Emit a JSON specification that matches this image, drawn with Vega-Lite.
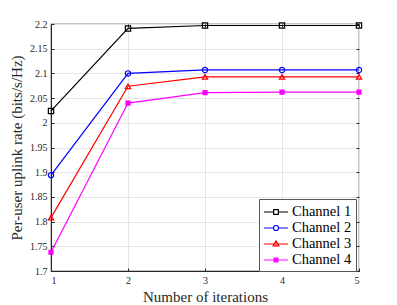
{
  "$schema": "https://vega.github.io/schema/vega-lite/v6.json",
  "width": 308,
  "height": 247,
  "autosize": {"type": "none"},
  "padding": {"left": 51, "top": 24, "right": 38, "bottom": 34},
  "background": "white",
  "config": {
    "font": "Liberation Serif",
    "view": {"stroke": "#b3b3b3", "strokeWidth": 1.5},
    "legend": {"labelFont": "Liberation Serif", "labelFontSize": 14.5},
    "axis": {
      "labelFont": "Liberation Serif",
      "titleFont": "Liberation Serif",
      "labelColor": "#262626",
      "titleColor": "#262626",
      "labelFontSize": 10,
      "titleFontSize": 15,
      "titleFontWeight": "normal",
      "domainColor": "#262626",
      "tickColor": "#262626",
      "gridColor": "#e6e6e6",
      "gridWidth": 1,
      "tickSize": -3,
      "labelPadding": 7
    }
  },
  "data": {
    "values": [
      {"iter": 1, "rate": 2.024, "channel": "Channel 1"},
      {"iter": 2, "rate": 2.191, "channel": "Channel 1"},
      {"iter": 3, "rate": 2.197, "channel": "Channel 1"},
      {"iter": 4, "rate": 2.197, "channel": "Channel 1"},
      {"iter": 5, "rate": 2.197, "channel": "Channel 1"},
      {"iter": 1, "rate": 1.894, "channel": "Channel 2"},
      {"iter": 2, "rate": 2.1, "channel": "Channel 2"},
      {"iter": 3, "rate": 2.107, "channel": "Channel 2"},
      {"iter": 4, "rate": 2.107, "channel": "Channel 2"},
      {"iter": 5, "rate": 2.107, "channel": "Channel 2"},
      {"iter": 1, "rate": 1.808, "channel": "Channel 3"},
      {"iter": 2, "rate": 2.074, "channel": "Channel 3"},
      {"iter": 3, "rate": 2.093, "channel": "Channel 3"},
      {"iter": 4, "rate": 2.093, "channel": "Channel 3"},
      {"iter": 5, "rate": 2.093, "channel": "Channel 3"},
      {"iter": 1, "rate": 1.738, "channel": "Channel 4"},
      {"iter": 2, "rate": 2.04, "channel": "Channel 4"},
      {"iter": 3, "rate": 2.061, "channel": "Channel 4"},
      {"iter": 4, "rate": 2.062, "channel": "Channel 4"},
      {"iter": 5, "rate": 2.062, "channel": "Channel 4"}
    ]
  },
  "resolve": {"axis": {"y": "independent", "x": "independent"}},
  "layer": [
    {
      "mark": {"type": "line", "strokeWidth": 1.2},
      "encoding": {
        "x": {"field": "iter", "type": "quantitative", "scale": {"domain": [1, 5], "nice": false},
              "axis": {"values": [1, 2, 3, 4, 5], "title": "Number of iterations", "titlePadding": 4, "grid": true}},
        "y": {"field": "rate", "type": "quantitative", "scale": {"domain": [1.7, 2.2], "nice": false, "zero": false},
              "axis": {"values": [1.7, 1.75, 1.8, 1.85, 1.9, 1.95, 2, 2.05, 2.1, 2.15, 2.2], "format": "~g",
                       "title": "Per-user uplink rate (bits/s/Hz)", "titlePadding": 5, "grid": true}},
        "color": {"field": "channel", "type": "nominal",
                  "scale": {"domain": ["Channel 1", "Channel 2", "Channel 3", "Channel 4"], "range": ["#000000", "#0000ff", "#ff0000", "#ff00ff"]},
                  "legend": {
                    "orient": "none", "legendX": 208, "legendY": 175, "title": null,
                    "labelFont": "Times New Roman", "labelFontSize": 14.5, "labelColor": "#000000",
                    "strokeColor": "#555555", "fillColor": "white", "padding": 4,
                    "symbolSize": 280, "symbolStrokeWidth": 1.2, "rowPadding": 0, "labelOffset": 7, "symbolOffset": 4,
                    "symbolType": "M-1,0H1",
                    "encode": {
                      "symbols": {"update": {
                      "shape": {"signal": "datum.value=='Channel 1' ? 'M-1.43,0H-0.28M0.28,0H1.43M-0.28,-0.28H0.28V0.28H-0.28Z' : datum.value=='Channel 2' ? 'M-1.43,0H-0.3M0.3,0H1.43M-0.3,0A0.3,0.3 0 1,0 0.3,0A0.3,0.3 0 1,0 -0.3,0Z' : datum.value=='Channel 3' ? 'M-1.43,0H1.43M-0.34,0.22L0,-0.36L0.34,0.22Z' : 'M-1.43,0H1.43M-0.22,-0.22H0.22V0.22H-0.22Z'"},
                      "fill": {"signal": "datum.value=='Channel 4' ? '#ff00ff' : 'transparent'"},
                      "fillOpacity": {"value": 1}
                    }}}
                  }}
      }
    },
    {
      "mark": {"type": "point", "strokeWidth": 1.2, "opacity": 1},
      "encoding": {
        "x": {"field": "iter", "type": "quantitative", "scale": {"domain": [1, 5], "nice": false},
              "axis": {"orient": "top", "values": [1, 2, 3, 4, 5], "labels": false, "domain": false, "title": null, "grid": false}},
        "y": {"field": "rate", "type": "quantitative", "scale": {"domain": [1.7, 2.2], "nice": false, "zero": false},
              "axis": {"orient": "right", "values": [1.7, 1.75, 1.8, 1.85, 1.9, 1.95, 2, 2.05, 2.1, 2.15, 2.2], "labels": false, "domain": false, "title": null, "grid": false}},
        "color": {"field": "channel", "type": "nominal",
                  "scale": {"domain": ["Channel 1", "Channel 2", "Channel 3", "Channel 4"], "range": ["#000000", "#0000ff", "#ff0000", "#ff00ff"]},
                  "legend": {
                    "orient": "none", "legendX": 208, "legendY": 175, "title": null,
                    "labelFont": "Times New Roman", "labelFontSize": 14.5, "labelColor": "#000000",
                    "strokeColor": "#555555", "fillColor": "white", "padding": 4,
                    "symbolSize": 280, "symbolStrokeWidth": 1.2, "rowPadding": 0, "labelOffset": 7, "symbolOffset": 4,
                    "symbolType": "M-1,0H1",
                    "encode": {
                      "symbols": {"update": {
                      "shape": {"signal": "datum.value=='Channel 1' ? 'M-1.43,0H-0.28M0.28,0H1.43M-0.28,-0.28H0.28V0.28H-0.28Z' : datum.value=='Channel 2' ? 'M-1.43,0H-0.3M0.3,0H1.43M-0.3,0A0.3,0.3 0 1,0 0.3,0A0.3,0.3 0 1,0 -0.3,0Z' : datum.value=='Channel 3' ? 'M-1.43,0H1.43M-0.34,0.22L0,-0.36L0.34,0.22Z' : 'M-1.43,0H1.43M-0.22,-0.22H0.22V0.22H-0.22Z'"},
                      "fill": {"signal": "datum.value=='Channel 4' ? '#ff00ff' : 'transparent'"},
                      "fillOpacity": {"value": 1}
                    }}}
                  }},
        "shape": {"condition": [
                    {"test": "datum.channel=='Channel 2'", "value": "circle"},
                    {"test": "datum.channel=='Channel 3'", "value": "triangle-up"}
                  ], "value": "square"},
        "size": {"condition": {"test": "datum.channel=='Channel 4'", "value": 16}, "value": 28},
        "fill": {"condition": {"test": "datum.channel=='Channel 4'", "value": "#ff00ff"}, "value": "transparent"}
      }
    }
  ]
}
